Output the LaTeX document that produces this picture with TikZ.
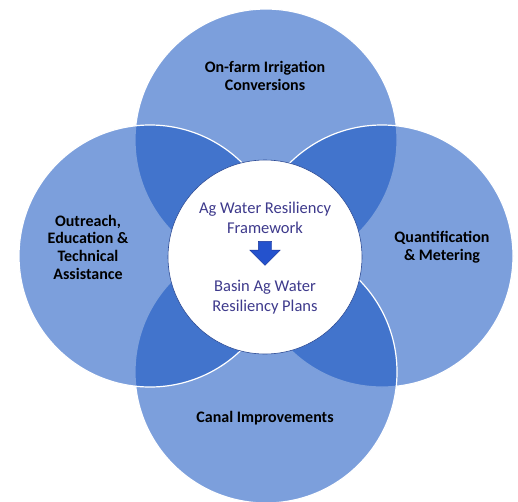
\documentclass[tikz,border=0pt]{standalone}
\usepackage{fontspec}
\setmainfont{Carlito}
\usepackage{xcolor}
\usepackage{tikz}
\usetikzlibrary{positioning, shapes.arrows}

\definecolor{ringblue}{RGB}{17,81,191}
\definecolor{centertext}{RGB}{62,58,140}
\definecolor{arrowblue}{RGB}{36,82,205}

\begin{document}
\begin{tikzpicture}[x=1pt,y=-1pt]
			\tikzstyle{ring}=[circle,minimum size=262pt,inner sep=0pt,fill=ringblue,fill opacity=0.55,draw=white,draw opacity=1,line width=1.2pt]
			\tikzstyle{label}=[align=center,font=\fontsize{16}{17.7}\selectfont\bfseries,text=black]
			\tikzstyle{core}=[align=center,font=\fontsize{16.5}{20}\selectfont,text=centertext]
			
			\useasboundingbox (0,0) rectangle (518,501);
			
			\node[ring] (c_top) at (266,140) {};
			\node[ring] (c_right) at (382,256) {};
			\node[ring] (c_bottom) at (266,372) {};
			\node[ring] (c_left) at (150,256) {};
			\node[circle,minimum size=194pt,inner sep=0pt,fill=white,draw={rgb,255:red,45;green,75;blue,150},line width=0.6pt] (hub) at (265,257) {};
			
			\node[label] (l_top) at (265,76) {On-farm Irrigation\\Conversions};
			\node[label] (l_left) at (88,247) {Outreach,\\Education \&\\Technical\\Assistance};
			\node[label] (l_right) at (442,247) {Quantification\\\& Metering};
			\node[label] (l_bottom) at (265,418) {Canal Improvements};
			
			\node[core] (frame) at (265,218) {Ag Water Resiliency\\Framework};
			\node[single arrow,rotate=-90,minimum height=24pt,inner xsep=0pt,inner ysep=6.5pt,single arrow head extend=8.5pt,fill=arrowblue,draw={rgb,255:red,25;green,50;blue,150},line width=0.4pt] (arr) at (265,250) {};
			\node[core] (plans) at (265,297.5) {Basin Ag Water\\Resiliency Plans};
		\end{tikzpicture}
\end{document}
